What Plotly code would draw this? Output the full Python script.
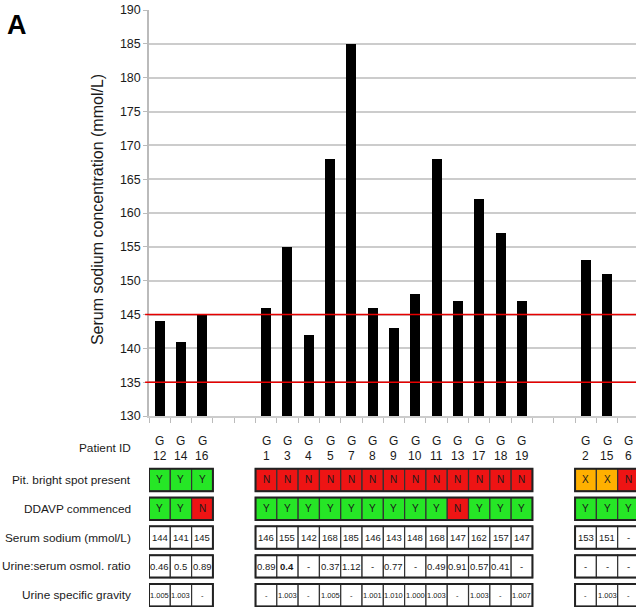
import plotly.graph_objects as go

# ---------------- data ----------------
patients = ["G12", "G14", "G16", "", "", "G1", "G3", "G4", "G5", "G7", "G8", "G9",
            "G10", "G11", "G13", "G17", "G18", "G19", "", "", "G2", "G15", "G6"]
sodium = [144, 141, 145, None, None, 146, 155, 142, 168, 185, 146, 143,
          148, 168, 147, 162, 157, 147, None, None, 153, 151, None]
bright_spot = ["Y", "Y", "Y", "", "", "N", "N", "N", "N", "N", "N", "N",
               "N", "N", "N", "N", "N", "N", "", "", "X", "X", "N"]
ddavp = ["Y", "Y", "N", "", "", "Y", "Y", "Y", "Y", "Y", "Y", "Y",
         "Y", "Y", "N", "Y", "Y", "Y", "", "", "Y", "Y", "Y"]
sodium_text = ["144", "141", "145", "", "", "146", "155", "142", "168", "185", "146", "143",
               "148", "168", "147", "162", "157", "147", "", "", "153", "151", "-"]
urine_ratio = ["0.46", "0.5", "0.89", "", "", "0.89", "<b>0.4</b>", "-", "0.37", "1.12", "-", "0.77",
               "-", "0.49", "0.91", "0.57", "0.41", "-", "", "", "-", "-", "-"]
gravity = ["1.005", "1.003", "-", "", "", "-", "1.003", "-", "1.005", "-", "1.001", "1.010",
           "1.000", "1.003", "-", "1.003", "-", "1.007", "", "", "-", "1.003", "-"]
row_labels = ["Patient ID", "Pit. bright spot present", "DDAVP commenced",
              "Serum sodium (mmol/L)", "Urine:serum osmol. ratio", "Urine specific gravity"]
y_ticks = [130, 135, 140, 145, 150, 155, 160, 165, 170, 175, 180, 185, 190]
normal_range = [135, 145]

FONT = "Liberation Sans, Arial, Helvetica, sans-serif"
TXT = "#1a1a1a"
GRID = "#cccccc"
GREEN = "#26e626"
RED = "#ee1414"
ORANGE = "#ffb000"
status_color = {"Y": GREEN, "N": RED, "X": ORANGE}

idx = list(range(len(patients)))
n = len(patients)

fig = go.Figure()
fig.add_trace(go.Bar(x=idx, y=sodium, width=0.47,
                     marker=dict(color="black", line=dict(width=0)),
                     xaxis="x", yaxis="y", showlegend=False, hoverinfo="skip"))
fig.add_trace(go.Scatter(x=[0], y=[0], mode="markers", marker=dict(opacity=0),
                         xaxis="x2", yaxis="y2", showlegend=False, hoverinfo="skip"))

shapes = []
annotations = []

# normal range lines
for v in normal_range:
    shapes.append(dict(type="line", xref="paper", yref="y", x0=-0.008, x1=1, y0=v, y1=v,
                       line=dict(color="#e60000", width=1.5), layer="above"))

# table
half = 0.39
groups = []
start = None
for i, p in enumerate(patients + [""]):
    if p and start is None:
        start = i
    if not p and start is not None:
        groups.append((start, i - 1))
        start = None

rows = [(1, bright_spot, "status"), (2, ddavp, "status"),
        (3, sodium_text, "num"), (4, urine_ratio, "num"), (5, gravity, "small")]

for r, vals, kind in rows:
    for i, v in enumerate(vals):
        if not patients[i]:
            continue
        fill = status_color.get(v, "white") if kind == "status" else "white"
        shapes.append(dict(type="rect", xref="x2", yref="y2", x0=i - 0.5, x1=i + 0.5,
                           y0=r - half, y1=r + half, fillcolor=fill,
                           line=dict(color="#333333", width=1.2), layer="above"))
        size = 7.5 if kind == "small" else (10 if kind == "status" else 9.5)
        annotations.append(dict(xref="x2", yref="y2", x=i, y=r, text=v, showarrow=False,
                                font=dict(family=FONT, size=size, color=TXT)))
    for a, b in groups:
        shapes.append(dict(type="rect", xref="x2", yref="y2", x0=a - 0.5, x1=b + 0.5,
                           y0=r - half, y1=r + half,
                           line=dict(color="#222222", width=2), layer="above"))

# patient IDs
for i, p in enumerate(patients):
    if not p:
        continue
    annotations.append(dict(xref="x2", yref="y2", x=i, y=-0.36, text=p[0], showarrow=False,
                            font=dict(family=FONT, size=12, color=TXT)))
    annotations.append(dict(xref="x2", yref="y2", x=i, y=0.16, text=p[1:], showarrow=False,
                            font=dict(family=FONT, size=12, color=TXT)))

# row labels
label_y = [-0.11, 1, 2, 3, 4, 5]
for lab, yy in zip(row_labels, label_y):
    annotations.append(dict(xref="paper", yref="y2", x=-0.0329, y=yy, xanchor="right",
                            yanchor="middle", text=lab, showarrow=False,
                            font=dict(family=FONT, size=11.8, color=TXT)))

# panel letter and y title
annotations.append(dict(xref="paper", yref="paper", x=-0.272, y=0.9757, xanchor="center",
                        yanchor="middle", text="<b>A</b>", showarrow=False,
                        font=dict(family=FONT, size=27, color="black")))
annotations.append(dict(xref="paper", yref="paper", x=-0.1045, y=0.665, textangle=-90,
                        xanchor="center", yanchor="middle",
                        text="Serum sodium concentration (mmol/L)", showarrow=False,
                        font=dict(family=FONT, size=16, color=TXT)))

bottom = (607 - 416) / 597

fig.update_layout(
    width=636, height=607, autosize=False,
    margin=dict(l=149, r=0, t=10, b=0, pad=0, autoexpand=False),
    paper_bgcolor="white", plot_bgcolor="white",
    bargap=0,
    xaxis=dict(domain=[0, 1], range=[-0.5, 22.36], anchor="y", automargin=False,
               tickvals=[k - 0.5 for k in range(n + 1)], ticktext=[""] * (n + 1),
               ticks="outside", ticklen=5, tickcolor="#bbbbbb", tickwidth=1,
               showgrid=False, zeroline=False, showline=True, linecolor=GRID, linewidth=1.5),
    yaxis=dict(domain=[bottom, 1], range=[130, 190], tickvals=y_ticks, automargin=False,
               ticks="outside", ticklen=4, tickcolor="#bbbbbb",
               showgrid=True, gridcolor=GRID, gridwidth=1.5,
               showline=True, linecolor="#bbbbbb", linewidth=1.5, zeroline=False,
               tickfont=dict(family=FONT, size=12.5, color=TXT)),
    xaxis2=dict(domain=[0, 1], matches="x", anchor="y2", visible=False, automargin=False),
    yaxis2=dict(domain=[0, bottom], range=[5.41, -1.222], visible=False, automargin=False),
    shapes=shapes,
    annotations=annotations,
)

# remove the browser's default 8px page margin so the figure sits at the window origin
fig.write_html("out.html", config={"displayModeBar": False},
               post_script="document.body.style.margin='0px';")
